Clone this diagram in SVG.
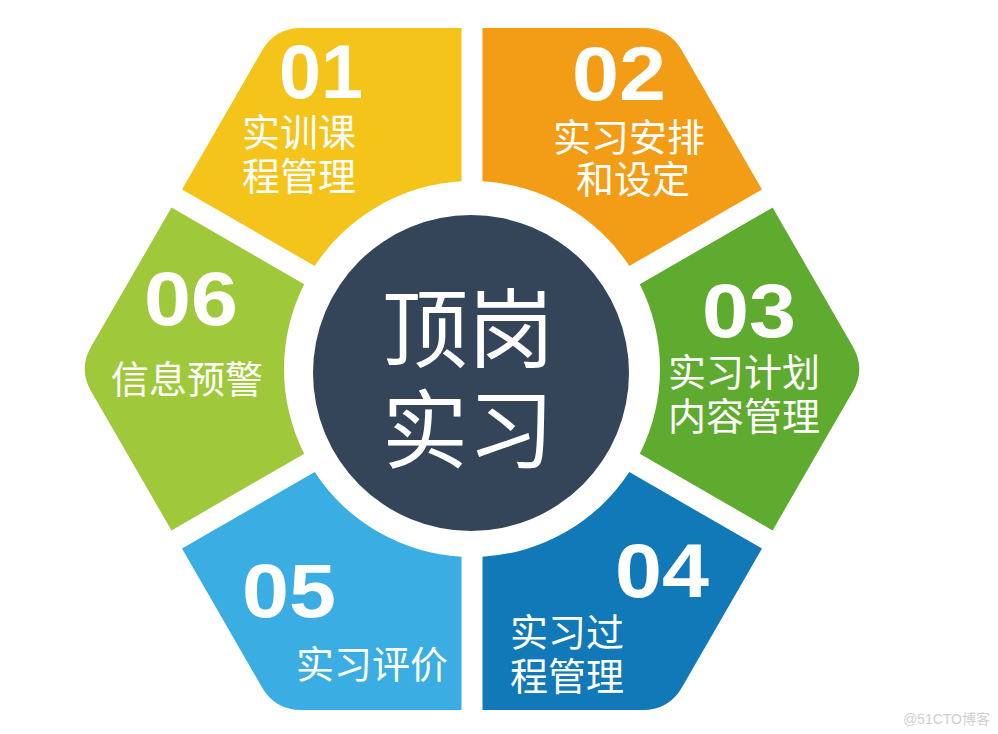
<svg xmlns="http://www.w3.org/2000/svg" width="998" height="734" viewBox="0 0 998 734">
<style>
.num{font-family:"Liberation Sans",Arial,sans-serif;font-weight:bold;font-size:76px;fill:#fff}
.lbl{font-family:"Noto Sans CJK SC","Noto Sans",sans-serif;font-size:38px;fill:#fff}
.ctr{font-family:"Noto Sans CJK SC","Noto Sans",sans-serif;font-size:86px;fill:#fff;text-anchor:middle}
</style>
<rect width="998" height="734" fill="#ffffff"/>
<g id="seg01">
<path d="M461.5,28 L301.1,28 Q275.1,28 262.1,50.5 L182,189.4 L314.7,266 A188,188 0 0 1 461.5,181.3 Z" fill="#F4C41B"/>
<text class="num" x="279" y="98" textLength="84" lengthAdjust="spacingAndGlyphs">01</text>
<text class="lbl" x="242" y="146">实训课<tspan x="242" dy="44">程管理</tspan></text>
</g>
<g id="seg02">
<path d="M482.5,28 L642.9,28 Q668.9,28 681.9,50.5 L762,189.4 L629.3,266 A188,188 0 0 0 482.5,181.3 Z" fill="#F39C15"/>
<text class="num" x="572" y="100" textLength="94" lengthAdjust="spacingAndGlyphs">02</text>
<text class="lbl" x="553" y="151">实习安排<tspan x="576" dy="42">和设定</tspan></text>
</g>
<g id="seg03">
<path d="M772.6,530.4 L852.8,391.5 Q865.8,369 852.8,346.5 L772.6,207.6 L639.8,284.2 A188,188 0 0 1 639.8,453.8 Z" fill="#5FAB2F"/>
<text class="num" x="702" y="337" textLength="94" lengthAdjust="spacingAndGlyphs">03</text>
<text class="lbl" x="668" y="386">实习计划<tspan x="668" dy="44">内容管理</tspan></text>
</g>
<g id="seg04">
<path d="M482.5,710 L642.9,710 Q668.9,710 681.9,687.5 L762,548.6 L629.3,472 A188,188 0 0 1 482.5,556.7 Z" fill="#1179B7"/>
<text class="num" x="615" y="597" textLength="94" lengthAdjust="spacingAndGlyphs">04</text>
<text class="lbl" x="510" y="646">实习过<tspan x="510" dy="44">程管理</tspan></text>
</g>
<g id="seg05">
<path d="M182,548.6 L262.1,687.5 Q275.1,710 301.1,710 L461.5,710 L461.5,556.7 A188,188 0 0 1 314.7,472 Z" fill="#3AAEE2"/>
<text class="num" x="242" y="617" textLength="94" lengthAdjust="spacingAndGlyphs">05</text>
<text class="lbl" x="296" y="678">实习评价</text>
</g>
<g id="seg06">
<path d="M171.5,207.6 L91.2,346.5 Q78.2,369 91.2,391.5 L171.5,530.4 L304.2,453.8 A188,188 0 0 1 304.2,284.2 Z" fill="#9FC83B"/>
<text class="num" x="144" y="325" textLength="94" lengthAdjust="spacingAndGlyphs">06</text>
<text class="lbl" x="111" y="393">信息预警</text>
</g>
<g id="center">
<circle cx="471" cy="373" r="158" fill="#344459"/>
<text class="ctr" x="468" y="361">顶岗<tspan x="468" dy="101">实习</tspan></text>
</g>
<g id="connectors"></g>
<text x="990" y="724" text-anchor="end" font-family="Liberation Sans,'Noto Sans CJK SC',sans-serif" font-size="14" fill="#cfcfcf">@51CTO博客</text>
</svg>
